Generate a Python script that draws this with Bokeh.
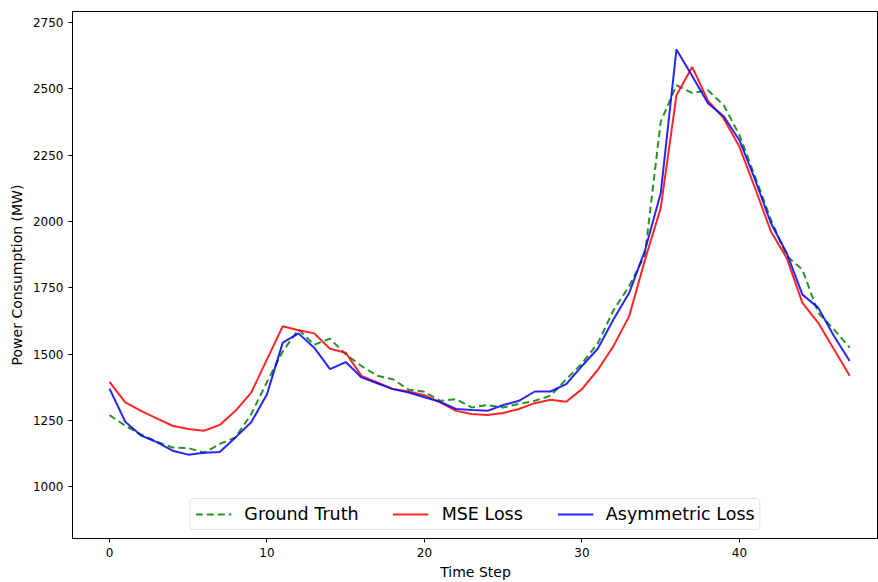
from bokeh.plotting import figure
from bokeh.models import Range1d, FixedTicker, Legend, LegendItem
from bokeh.embed import file_html
from bokeh.resources import INLINE

steps = list(range(48))
ground_truth = [1270, 1230, 1197, 1170, 1148, 1146, 1128, 1161, 1186, 1274,
                1395, 1510, 1593, 1535, 1558, 1499, 1455, 1418, 1405, 1366,
                1358, 1324, 1330, 1299, 1308, 1299, 1312, 1324, 1343, 1405,
                1465, 1540, 1665, 1756, 1875, 2375, 2513, 2484, 2494, 2438,
                2325, 2168, 2006, 1870, 1818, 1656, 1593, 1524]
mse_loss = [1395, 1318, 1286, 1258, 1230, 1218, 1211, 1233, 1286, 1355,
            1480, 1605, 1590, 1578, 1520, 1505, 1418, 1393, 1368, 1359,
            1345, 1318, 1286, 1274, 1270, 1278, 1293, 1315, 1328, 1320,
            1368, 1440, 1530, 1643, 1855, 2050, 2475, 2582, 2455, 2388,
            2281, 2124, 1962, 1862, 1693, 1618, 1518, 1418]
asym_loss = [1370, 1245, 1193, 1168, 1136, 1121, 1128, 1131, 1186, 1243,
             1349, 1543, 1578, 1524, 1443, 1470, 1412, 1390, 1368, 1355,
             1337, 1320, 1293, 1289, 1286, 1308, 1324, 1359, 1359, 1387,
             1455, 1520, 1630, 1731, 1890, 2106, 2648, 2548, 2445, 2396,
             2306, 2156, 1993, 1881, 1724, 1675, 1568, 1474]
x_ticks = [0, 10, 20, 30, 40]
y_ticks = [1000, 1250, 1500, 1750, 2000, 2250, 2500, 2750]

p = figure(width=878, height=582, output_backend="svg", toolbar_location=None,
           x_range=Range1d(-2.35, 48.83), y_range=Range1d(805, 2791),
           min_border_left=72, min_border_right=0, min_border_top=11,
           min_border_bottom=42)
p.background_fill_color = "white"
p.border_fill_color = "white"
p.outline_line_color = "black"
p.outline_line_width = 1
p.grid.visible = False

FONT = "DejaVu Sans"
for ax in (p.xaxis[0], p.yaxis[0]):
    ax.axis_line_color = "black"
    ax.major_tick_line_color = "black"
    ax.major_tick_out = 4
    ax.major_tick_in = 0
    ax.minor_tick_line_color = None
    ax.major_label_text_font = FONT
    ax.major_label_text_font_size = "12px"
    ax.major_label_text_color = "black"
    ax.axis_label_text_font = FONT
    ax.axis_label_text_font_size = "14px"
    ax.axis_label_text_font_style = "normal"
    ax.axis_label_text_color = "black"

p.xaxis[0].ticker = FixedTicker(ticks=x_ticks)
p.yaxis[0].ticker = FixedTicker(ticks=y_ticks)
p.xaxis[0].axis_label = "Time Step"
p.yaxis[0].axis_label = "Power Consumption (MW)"
p.xaxis[0].axis_label_standoff = 4
p.yaxis[0].axis_label_standoff = 5

r_gt = p.line(steps, ground_truth, line_color="#008000", line_width=2,
              line_dash="7 4", line_alpha=0.85)
r_mse = p.line(steps, mse_loss, line_color="#ff0000", line_width=2,
               line_alpha=0.85)
r_asym = p.line(steps, asym_loss, line_color="#0000ff", line_width=2,
                line_alpha=0.85)

legend = Legend(items=[LegendItem(label="Ground Truth", renderers=[r_gt]),
                       LegendItem(label="MSE Loss", renderers=[r_mse]),
                       LegendItem(label="Asymmetric Loss", renderers=[r_asym])],
                orientation="horizontal", location="bottom_center")
legend.label_text_font = FONT
legend.label_text_font_size = "17.5px"
legend.label_text_color = "black"
legend.glyph_width = 36
legend.glyph_height = 18
legend.label_standoff = 13
legend.spacing = 34
legend.padding = 5
legend.margin = 8
legend.border_line_color = "#cccccc"
legend.border_line_width = 1
legend.border_radius = 4
legend.background_fill_color = "white"
legend.background_fill_alpha = 0.8
p.add_layout(legend, "center")

open("out.html", "w").write(file_html(p, INLINE))
